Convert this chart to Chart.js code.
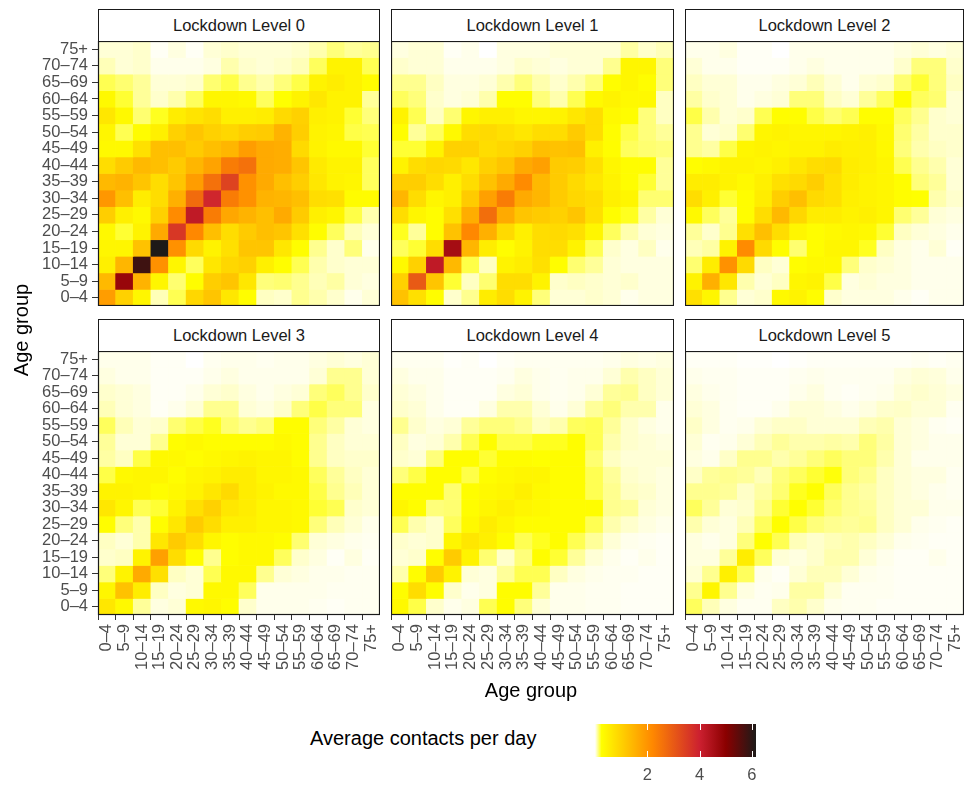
<!DOCTYPE html>
<html>
<head>
<meta charset="utf-8">
<script src="https://cdn.jsdelivr.net/npm/chart.js@4.4.1/dist/chart.umd.min.js"></script>
<style>
  body { margin: 0; background: #fff; width: 965px; height: 787px; position: relative; overflow: hidden;
         font-family: "Liberation Sans", Arial, sans-serif; }
  canvas { position: absolute; }
  .strip { position: absolute; box-sizing: border-box; height: 33px; border: 1.2px solid #1a1a1a; background: #fff;
           color: #1a1a1a; font-size: 16.5px; line-height: 30px; text-align: center; }
  .title { position: absolute; color: #000; font-size: 20px; line-height: 24px; white-space: nowrap; }
</style>
</head>
<body>
<div id="wrap"></div>
<div class="title" style="left:98px;width:866px;top:678px;text-align:center;">Age group</div>
<div class="title" style="left:-29px;top:318px;width:100px;text-align:center;transform:rotate(-90deg);">Age group</div>
<div class="title" style="left:310px;top:726px;">Average contacts per day</div>
<canvas id="colourbar" width="190" height="62" style="left:580px;top:724px;"></canvas>

<script>
// age groups, bottom (0–4) to top (75+) on the y axis, left to right on the x axis
const ageGroups = ['0–4', '5–9', '10–14', '15–19', '20–24', '25–29', '30–34', '35–39',
                   '40–44', '45–49', '50–54', '55–59', '60–64', '65–69', '70–74', '75+'];
const levelNames = ['Lockdown Level 0', 'Lockdown Level 1', 'Lockdown Level 2',
                    'Lockdown Level 3', 'Lockdown Level 4', 'Lockdown Level 5'];
const legendTicks = [2, 4, 6];
const legendMax = 6.16;

// each matrix: rows listed from the top row (75+) down to 0–4, columns 0–4 ... 75+
const level0 = [
  [0.04,0.04,0.05,0.01,0.03,0.01,0.04,0.05,0.04,0.04,0.04,0.05,0.08,0.13,0.10,0.11],
  [0.07,0.04,0.05,0.02,0.02,0.02,0.03,0.08,0.05,0.04,0.05,0.07,0.16,0.45,0.45,0.17],
  [0.17,0.14,0.10,0.04,0.04,0.05,0.14,0.18,0.11,0.08,0.13,0.18,0.45,0.55,0.45,0.30],
  [0.35,0.20,0.10,0.05,0.08,0.16,0.40,0.40,0.35,0.16,0.25,0.45,0.65,0.45,0.45,0.10],
  [0.65,0.35,0.14,0.22,0.55,0.70,0.80,0.50,0.50,0.55,0.85,1.00,0.50,0.45,0.20,0.13],
  [0.40,0.17,0.30,0.50,1.00,1.20,1.00,0.90,1.05,1.10,1.50,1.05,0.45,0.40,0.18,0.17],
  [0.35,0.35,0.75,1.30,1.30,1.10,1.30,1.45,1.85,1.65,1.60,0.85,0.45,0.35,0.35,0.20],
  [0.80,1.10,1.40,1.30,1.10,1.45,1.75,2.40,2.60,1.65,1.60,1.20,0.60,0.45,0.45,0.16],
  [1.40,1.50,1.20,0.80,1.20,1.85,2.60,3.40,2.05,1.65,1.30,1.05,0.65,0.45,0.40,0.16],
  [1.95,1.30,0.55,0.80,1.55,2.70,3.90,2.40,2.05,1.50,1.45,1.30,0.80,0.75,0.30,0.30],
  [1.05,0.50,0.35,1.00,2.15,4.20,2.40,1.70,1.50,1.30,1.65,1.10,0.50,0.40,0.18,0.08],
  [0.35,0.20,0.45,1.65,3.60,2.20,1.30,0.80,1.10,1.30,1.20,0.75,0.28,0.16,0.07,0.04],
  [0.40,0.40,1.25,6.15,2.05,0.85,0.45,0.75,1.20,1.20,0.65,0.28,0.11,0.05,0.13,0.02],
  [0.50,1.45,5.80,2.05,0.40,0.16,0.65,0.90,1.00,0.50,0.28,0.17,0.08,0.05,0.04,0.04],
  [1.40,4.80,1.50,0.40,0.14,0.28,1.05,1.20,0.65,0.13,0.14,0.11,0.07,0.09,0.04,0.03],
  [1.85,1.00,0.40,0.07,0.17,0.90,1.20,0.65,0.28,0.06,0.05,0.11,0.08,0.05,0.02,0.04]
];
const level1 = [
  [0.03,0.04,0.04,0.01,0.02,0.00,0.03,0.03,0.03,0.04,0.04,0.04,0.04,0.09,0.05,0.07],
  [0.05,0.04,0.04,0.02,0.02,0.02,0.03,0.05,0.04,0.03,0.04,0.04,0.11,0.40,0.40,0.13],
  [0.11,0.11,0.06,0.03,0.03,0.04,0.08,0.13,0.08,0.05,0.08,0.13,0.28,0.40,0.28,0.13],
  [0.16,0.13,0.05,0.03,0.04,0.08,0.28,0.28,0.13,0.08,0.17,0.35,0.45,0.35,0.35,0.06],
  [0.45,0.17,0.06,0.14,0.40,0.50,0.50,0.40,0.40,0.45,0.65,0.80,0.35,0.28,0.13,0.06],
  [0.28,0.10,0.16,0.35,0.80,0.85,0.75,0.65,0.80,0.80,1.10,0.80,0.28,0.18,0.13,0.10],
  [0.20,0.20,0.45,1.00,1.00,0.80,0.90,1.00,1.30,1.25,1.30,0.50,0.28,0.16,0.14,0.13],
  [0.45,0.80,0.90,0.85,0.65,1.00,1.20,1.65,1.80,1.10,1.05,0.75,0.40,0.28,0.28,0.10],
  [1.05,1.05,0.80,0.50,0.80,1.25,1.65,2.15,1.40,1.10,0.85,0.65,0.45,0.28,0.20,0.10],
  [1.45,0.80,0.40,0.50,1.10,1.80,2.40,1.65,1.45,1.10,0.90,0.80,0.50,0.40,0.14,0.14],
  [0.80,0.40,0.28,0.75,1.60,2.65,1.65,1.20,1.10,1.00,1.20,0.75,0.28,0.22,0.09,0.04],
  [0.22,0.10,0.28,1.25,2.20,1.55,0.85,0.50,0.80,0.85,0.75,0.40,0.16,0.08,0.04,0.03],
  [0.16,0.20,0.80,4.60,1.45,0.55,0.28,0.45,0.80,0.80,0.45,0.17,0.05,0.03,0.06,0.02],
  [0.35,1.00,4.20,1.40,0.18,0.06,0.45,0.55,0.75,0.28,0.14,0.10,0.04,0.03,0.03,0.03],
  [1.00,3.00,1.20,0.20,0.06,0.14,0.80,0.80,0.45,0.05,0.06,0.05,0.04,0.05,0.03,0.03],
  [1.25,0.75,0.28,0.05,0.11,0.55,0.80,0.45,0.13,0.04,0.04,0.05,0.04,0.02,0.03,0.03]
];
const level2 = [
  [0.02,0.02,0.03,0.01,0.01,0.00,0.02,0.02,0.02,0.02,0.02,0.02,0.03,0.04,0.03,0.04],
  [0.04,0.02,0.02,0.01,0.01,0.01,0.02,0.03,0.02,0.02,0.02,0.02,0.05,0.13,0.13,0.05],
  [0.06,0.04,0.04,0.02,0.02,0.03,0.04,0.07,0.04,0.02,0.04,0.05,0.14,0.20,0.13,0.06],
  [0.09,0.05,0.04,0.02,0.03,0.04,0.13,0.13,0.06,0.04,0.10,0.16,0.28,0.16,0.14,0.04],
  [0.18,0.08,0.04,0.05,0.17,0.28,0.28,0.18,0.14,0.17,0.28,0.28,0.16,0.11,0.05,0.04],
  [0.11,0.04,0.05,0.14,0.40,0.45,0.40,0.40,0.40,0.45,0.50,0.35,0.14,0.09,0.05,0.05],
  [0.11,0.09,0.18,0.40,0.45,0.40,0.45,0.45,0.55,0.50,0.50,0.35,0.13,0.08,0.06,0.05],
  [0.28,0.35,0.45,0.45,0.40,0.50,0.65,0.80,0.85,0.55,0.50,0.40,0.17,0.11,0.08,0.04],
  [0.55,0.55,0.45,0.35,0.50,0.75,0.85,1.05,0.75,0.55,0.45,0.40,0.28,0.13,0.10,0.04],
  [0.80,0.50,0.20,0.28,0.55,1.05,1.30,0.85,0.75,0.50,0.45,0.40,0.28,0.25,0.08,0.05],
  [0.35,0.16,0.10,0.28,0.80,1.40,0.90,0.55,0.55,0.45,0.50,0.40,0.14,0.10,0.04,0.03],
  [0.10,0.05,0.11,0.75,1.30,0.80,0.40,0.28,0.35,0.40,0.35,0.20,0.06,0.04,0.03,0.02],
  [0.07,0.09,0.45,2.15,0.85,0.28,0.14,0.28,0.40,0.40,0.22,0.06,0.03,0.02,0.04,0.01],
  [0.14,0.55,2.05,0.85,0.06,0.04,0.28,0.35,0.35,0.13,0.05,0.04,0.03,0.02,0.02,0.02],
  [0.45,1.55,0.65,0.08,0.04,0.06,0.40,0.45,0.18,0.03,0.04,0.03,0.03,0.02,0.02,0.02],
  [0.75,0.40,0.11,0.04,0.05,0.35,0.45,0.28,0.05,0.03,0.03,0.03,0.02,0.01,0.02,0.02]
];
const level3 = [
  [0.02,0.02,0.02,0.01,0.01,0.00,0.015,0.02,0.02,0.015,0.02,0.02,0.03,0.04,0.03,0.04],
  [0.03,0.02,0.02,0.01,0.01,0.01,0.02,0.03,0.02,0.02,0.02,0.02,0.04,0.11,0.11,0.04],
  [0.05,0.04,0.03,0.01,0.01,0.02,0.04,0.05,0.03,0.02,0.03,0.04,0.13,0.16,0.11,0.05],
  [0.07,0.04,0.03,0.01,0.02,0.04,0.11,0.11,0.04,0.03,0.05,0.13,0.18,0.13,0.13,0.03],
  [0.16,0.07,0.04,0.05,0.14,0.18,0.22,0.14,0.11,0.13,0.28,0.28,0.13,0.09,0.04,0.03],
  [0.10,0.04,0.04,0.11,0.28,0.35,0.28,0.28,0.28,0.28,0.35,0.28,0.11,0.06,0.04,0.04],
  [0.09,0.06,0.18,0.35,0.35,0.28,0.35,0.40,0.45,0.40,0.40,0.28,0.11,0.06,0.05,0.05],
  [0.18,0.35,0.40,0.40,0.28,0.40,0.45,0.55,0.55,0.40,0.40,0.35,0.16,0.10,0.06,0.04],
  [0.45,0.45,0.40,0.28,0.35,0.45,0.65,0.85,0.55,0.45,0.35,0.35,0.18,0.11,0.07,0.04],
  [0.65,0.40,0.17,0.20,0.45,0.75,1.00,0.65,0.55,0.40,0.40,0.35,0.20,0.17,0.05,0.04],
  [0.28,0.13,0.08,0.28,0.65,1.10,0.80,0.50,0.50,0.40,0.40,0.35,0.13,0.07,0.04,0.02],
  [0.06,0.04,0.08,0.65,1.10,0.80,0.40,0.28,0.35,0.35,0.28,0.14,0.04,0.03,0.02,0.015],
  [0.05,0.06,0.45,1.80,0.80,0.28,0.11,0.28,0.35,0.35,0.16,0.05,0.03,0.01,0.03,0.01],
  [0.13,0.45,1.65,0.75,0.06,0.04,0.17,0.35,0.35,0.11,0.04,0.03,0.02,0.02,0.015,0.015],
  [0.40,1.25,0.55,0.06,0.03,0.04,0.35,0.35,0.16,0.02,0.02,0.02,0.02,0.015,0.015,0.015],
  [0.65,0.35,0.10,0.03,0.04,0.35,0.40,0.28,0.05,0.02,0.02,0.02,0.015,0.01,0.015,0.015]
];
const level4 = [
  [0.015,0.015,0.015,0.005,0.01,0.00,0.01,0.015,0.015,0.015,0.015,0.015,0.02,0.03,0.025,0.03],
  [0.03,0.02,0.02,0.01,0.01,0.01,0.015,0.03,0.02,0.015,0.02,0.02,0.04,0.08,0.06,0.04],
  [0.04,0.03,0.02,0.01,0.01,0.01,0.03,0.04,0.02,0.015,0.02,0.04,0.10,0.11,0.06,0.04],
  [0.05,0.04,0.02,0.01,0.01,0.03,0.08,0.08,0.04,0.02,0.04,0.10,0.13,0.08,0.08,0.02],
  [0.11,0.05,0.03,0.04,0.10,0.13,0.13,0.11,0.06,0.08,0.16,0.17,0.10,0.05,0.03,0.02],
  [0.06,0.03,0.04,0.08,0.17,0.28,0.18,0.18,0.22,0.22,0.28,0.17,0.08,0.05,0.04,0.03],
  [0.05,0.04,0.13,0.28,0.28,0.20,0.28,0.28,0.25,0.28,0.28,0.14,0.06,0.04,0.04,0.04],
  [0.13,0.18,0.28,0.28,0.18,0.28,0.35,0.40,0.40,0.28,0.28,0.17,0.10,0.05,0.04,0.03],
  [0.28,0.28,0.28,0.14,0.28,0.35,0.40,0.50,0.35,0.28,0.28,0.17,0.11,0.06,0.05,0.03],
  [0.40,0.28,0.13,0.14,0.28,0.40,0.50,0.40,0.35,0.28,0.28,0.28,0.11,0.10,0.04,0.03],
  [0.17,0.08,0.05,0.16,0.35,0.55,0.40,0.28,0.28,0.28,0.28,0.17,0.08,0.05,0.03,0.02],
  [0.05,0.04,0.05,0.40,0.65,0.50,0.28,0.17,0.22,0.28,0.17,0.10,0.04,0.02,0.015,0.01],
  [0.04,0.05,0.28,1.10,0.45,0.14,0.05,0.13,0.28,0.20,0.10,0.04,0.02,0.01,0.02,0.01],
  [0.08,0.28,1.10,0.45,0.04,0.03,0.10,0.17,0.17,0.06,0.03,0.02,0.015,0.015,0.01,0.01],
  [0.28,0.80,0.28,0.05,0.02,0.03,0.28,0.28,0.10,0.02,0.02,0.015,0.015,0.01,0.01,0.01],
  [0.35,0.18,0.05,0.02,0.03,0.17,0.28,0.13,0.04,0.02,0.02,0.015,0.015,0.01,0.01,0.01]
];
const level5 = [
  [0.01,0.01,0.01,0.005,0.005,0.00,0.005,0.01,0.01,0.01,0.01,0.01,0.01,0.015,0.01,0.015],
  [0.02,0.015,0.015,0.01,0.01,0.01,0.015,0.02,0.015,0.015,0.015,0.015,0.03,0.04,0.035,0.02],
  [0.03,0.02,0.015,0.01,0.01,0.01,0.02,0.03,0.015,0.01,0.015,0.02,0.04,0.05,0.04,0.03],
  [0.04,0.03,0.015,0.01,0.01,0.02,0.04,0.04,0.03,0.02,0.03,0.05,0.055,0.04,0.04,0.015],
  [0.055,0.03,0.015,0.02,0.04,0.055,0.055,0.04,0.04,0.04,0.07,0.08,0.04,0.03,0.015,0.01],
  [0.04,0.015,0.02,0.04,0.07,0.10,0.08,0.08,0.09,0.08,0.13,0.09,0.04,0.03,0.02,0.02],
  [0.03,0.02,0.055,0.11,0.11,0.08,0.10,0.13,0.16,0.13,0.13,0.08,0.04,0.02,0.02,0.02],
  [0.055,0.10,0.11,0.10,0.07,0.13,0.16,0.20,0.24,0.13,0.11,0.06,0.04,0.03,0.03,0.015],
  [0.11,0.11,0.10,0.055,0.09,0.14,0.22,0.26,0.16,0.11,0.09,0.06,0.04,0.03,0.02,0.015],
  [0.16,0.10,0.04,0.05,0.11,0.20,0.26,0.20,0.14,0.11,0.10,0.06,0.04,0.04,0.02,0.02],
  [0.08,0.04,0.03,0.07,0.16,0.26,0.18,0.13,0.11,0.10,0.11,0.06,0.04,0.02,0.015,0.01],
  [0.03,0.02,0.03,0.13,0.26,0.17,0.07,0.05,0.07,0.08,0.06,0.04,0.02,0.015,0.01,0.01],
  [0.03,0.03,0.10,0.55,0.16,0.04,0.03,0.05,0.08,0.08,0.04,0.02,0.01,0.01,0.02,0.01],
  [0.04,0.11,0.50,0.16,0.02,0.01,0.04,0.07,0.07,0.04,0.02,0.015,0.01,0.01,0.01,0.01],
  [0.11,0.40,0.11,0.03,0.015,0.02,0.09,0.09,0.04,0.015,0.015,0.015,0.01,0.01,0.01,0.01],
  [0.16,0.07,0.03,0.015,0.015,0.06,0.08,0.05,0.02,0.015,0.015,0.01,0.01,0.01,0.01,0.01]
];
const levels = [level0, level1, level2, level3, level4, level5];

// colour scale: white -> yellow -> orange -> red -> dark red -> black
const colourStops = [[0, '#ffffff'], [0.25, '#ffff00'], [2.2, '#ff8800'], [4.0, '#cc2030'], [5.0, '#8b0000'], [legendMax, '#1c1a18']];

function hexRgb(h) {
  return [parseInt(h.substr(1, 2), 16), parseInt(h.substr(3, 2), 16), parseInt(h.substr(5, 2), 16)];
}
function colourFor(v) {
  for (let i = 1; i < colourStops.length; i++) {
    if (v <= colourStops[i][0] || i === colourStops.length - 1) {
      const [v0, c0] = colourStops[i - 1];
      const [v1, c1] = colourStops[i];
      const t = Math.min(1, Math.max(0, (v - v0) / (v1 - v0)));
      const a = hexRgb(c0), b = hexRgb(c1);
      return 'rgb(' + a.map((x, k) => Math.round(x + (b[k] - x) * t)).join(',') + ')';
    }
  }
}

Chart.defaults.font.family = '"Liberation Sans", Arial, sans-serif';
Chart.defaults.color = '#4d4d4d';

const panelBorder = {
  id: 'panelBorder',
  afterDatasetsDraw(chart) {
    const a = chart.chartArea, ctx = chart.ctx;
    ctx.save();
    ctx.strokeStyle = '#1a1a1a';
    ctx.lineWidth = 1.2;
    ctx.strokeRect(a.left + 0.5, a.top + 0.5, a.right - a.left - 1, a.bottom - a.top - 1);
    ctx.restore();
  }
};

// panel plot areas in page pixels
const colLeft = [98, 391, 685];
const colRight = [380, 674, 964];
const rowTop = [41, 351];
const rowBottom = [306, 615];

const wrap = document.getElementById('wrap');

levels.forEach(function (m, p) {
  const r = Math.floor(p / 3), c = p % 3;
  const showY = c === 0, showX = r === 1;
  const left = showY ? 0 : colLeft[c];
  const width = colRight[c] - left;
  const plotH = rowBottom[r] - rowTop[r];
  const height = showX ? 340 : plotH;

  const strip = document.createElement('div');
  strip.className = 'strip';
  strip.style.left = colLeft[c] + 'px';
  strip.style.top = (rowTop[r] - 32) + 'px';
  strip.style.width = (colRight[c] - colLeft[c]) + 'px';
  strip.textContent = levelNames[p];
  wrap.appendChild(strip);

  const cv = document.createElement('canvas');
  cv.width = width;
  cv.height = height;
  cv.style.left = left + 'px';
  cv.style.top = rowTop[r] + 'px';
  wrap.appendChild(cv);

  const datasets = m.map(function (row, i) {
    const y = ageGroups.length - 1 - i;
    return {
      data: row.map(() => [y - 0.5, y + 0.5]),
      backgroundColor: row.map(colourFor),
      borderWidth: 0,
      barPercentage: 1,
      categoryPercentage: 1,
      grouped: false
    };
  });

  new Chart(cv, {
    type: 'bar',
    data: { labels: ageGroups, datasets: datasets },
    options: {
      responsive: false,
      animation: false,
      layout: { padding: 0 },
      plugins: { legend: { display: false }, tooltip: { enabled: false } },
      scales: {
        x: {
          display: showX,
          grid: { display: true, drawOnChartArea: false, drawTicks: true, tickLength: 5, tickColor: '#333' },
          border: { display: false },
          ticks: { autoSkip: false, minRotation: 90, maxRotation: 90, padding: 4,
                   font: { size: 16.5, lineHeight: 1 }, color: '#4d4d4d' },
          afterFit(s) { s.height = showX ? height - plotH : 0; s.paddingLeft = 0; s.paddingRight = 0; }
        },
        y: {
          display: showY,
          min: -0.5,
          max: ageGroups.length - 0.5,
          grid: { display: true, drawOnChartArea: false, drawTicks: true, tickLength: 6, tickColor: '#333' },
          border: { display: false },
          afterBuildTicks(s) { s.ticks = ageGroups.map((_, i) => ({ value: i })); },
          ticks: { autoSkip: false, padding: 4, font: { size: 16.5, lineHeight: 1 }, color: '#4d4d4d',
                   callback: v => ageGroups[v] },
          afterFit(s) { s.width = showY ? colLeft[0] : 0; s.paddingTop = 0; s.paddingBottom = 0; }
        }
      }
    },
    plugins: [panelBorder]
  });
});

// colour bar legend
const colourBarFill = {
  id: 'colourBarFill',
  beforeDatasetsDraw(chart) {
    const a = chart.chartArea, ctx = chart.ctx, x = chart.scales.x;
    const g = ctx.createLinearGradient(a.left, 0, a.right, 0);
    colourStops.forEach(s => g.addColorStop(Math.min(1, s[0] / legendMax), s[1]));
    ctx.save();
    ctx.fillStyle = g;
    ctx.fillRect(a.left, a.top, a.right - a.left, a.bottom - a.top);
    ctx.strokeStyle = '#ffffff';
    ctx.lineWidth = 1;
    legendTicks.forEach(function (t) {
      const px = Math.round(x.getPixelForValue(t)) + 0.5;
      ctx.beginPath();
      ctx.moveTo(px, a.top); ctx.lineTo(px, a.top + 6);
      ctx.moveTo(px, a.bottom - 6); ctx.lineTo(px, a.bottom);
      ctx.stroke();
    });
    ctx.restore();
  }
};

new Chart(document.getElementById('colourbar'), {
  type: 'scatter',
  data: { datasets: [{ data: [] }] },
  options: {
    responsive: false,
    animation: false,
    layout: { padding: { left: 15, right: 14, top: 0, bottom: 0 } },
    plugins: { legend: { display: false }, tooltip: { enabled: false } },
    scales: {
      x: {
        type: 'linear', min: 0, max: legendMax,
        grid: { display: false, drawTicks: false },
        border: { display: false },
        afterBuildTicks(s) { s.ticks = legendTicks.map(v => ({ value: v })); },
        ticks: { padding: 10, font: { size: 16.5, lineHeight: 1 }, color: '#4d4d4d' },
        afterFit(s) { s.height = 29; s.paddingLeft = 0; s.paddingRight = 0; }
      },
      y: { display: false, min: 0, max: 1 }
    }
  },
  plugins: [colourBarFill]
});
</script>
</body>
</html>
